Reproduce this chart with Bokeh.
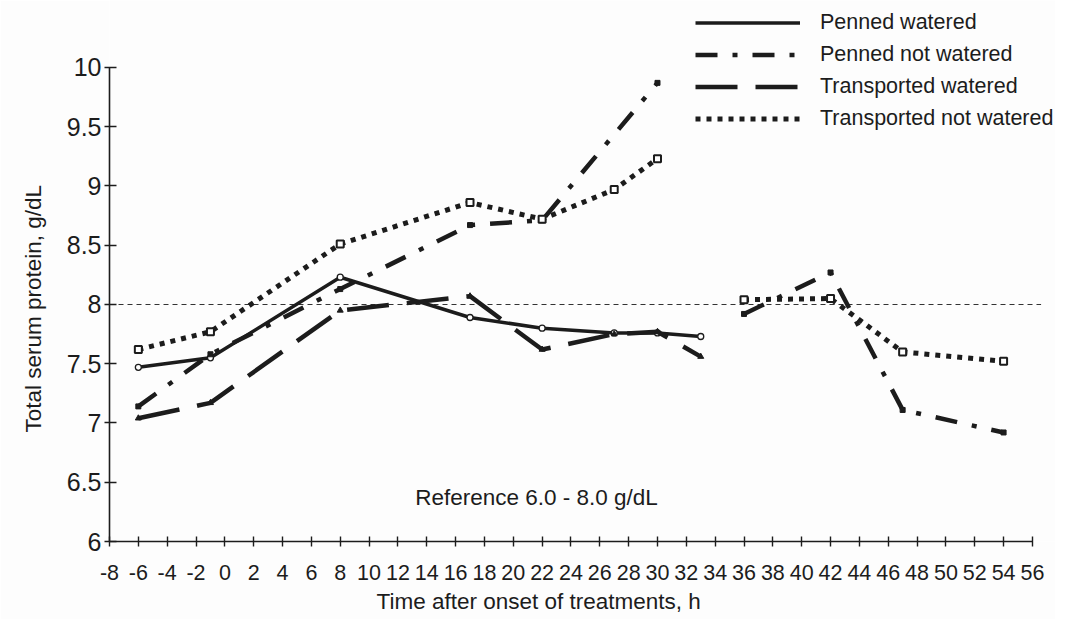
from bokeh.plotting import figure
from bokeh.models import Range1d, FixedTicker, Legend, LegendItem, Label, Title
from bokeh.embed import file_html
from bokeh.resources import INLINE

# ---------------- data ----------------
hours_pw = [-6, -1, 8, 17, 22, 27, 30, 33]
penned_watered = [7.47, 7.55, 8.23, 7.89, 7.80, 7.76, 7.76, 7.73]

hours_pnw = [-6, -1, 8, 17, 22, 30, 36, 42, 47, 54]
penned_not_watered = [7.14, 7.58, 8.13, 8.67, 8.71, 9.87, 7.92, 8.27, 7.11, 6.92]

hours_tw = [-6, -1, 8, 17, 22, 27, 30, 33]
transported_watered = [7.04, 7.17, 7.95, 8.07, 7.62, 7.75, 7.77, 7.56]

hours_tnw = [-6, -1, 8, 17, 22, 27, 30, 36, 42, 47, 54]
transported_not_watered = [7.62, 7.77, 8.51, 8.86, 8.72, 8.97, 9.23, 8.04, 8.05, 7.60, 7.52]

series_names = ["Penned watered", "Penned not watered",
                "Transported watered", "Transported not watered"]

x_ticks = list(range(-8, 57, 2))
x_tick_labels = [str(t) for t in x_ticks]
y_ticks = [6, 6.5, 7, 7.5, 8, 8.5, 9, 9.5, 10]
y_tick_labels = ["6", "6.5", "7", "7.5", "8", "8.5", "9", "9.5", "10"]

reference_upper = 8.0
reference_text = "Reference 6.0 - 8.0 g/dL"
x_title = "Time after onset of treatments, h"
y_title = "Total serum protein, g/dL"
sampling_gap = 34.5   # no samples between 33 h and 36 h


def with_gap(hours, vals):
    xs, ys = [], []
    for i, (h, v) in enumerate(zip(hours, vals)):
        if i > 0 and hours[i - 1] < sampling_gap < h:
            xs.append(float("nan"))
            ys.append(float("nan"))
        xs.append(h)
        ys.append(v)
    return xs, ys


FONT = "Liberation Sans"
INK = "#1c1c1c"

p = figure(width=1055, height=619, output_backend="svg", toolbar_location=None,
           x_range=Range1d(-8, 57.6), y_range=Range1d(6, 10.565),
           min_border_left=107, min_border_right=0, min_border_top=0,
           min_border_bottom=78)
p.outline_line_color = None
p.background_fill_color = "#fdfdfd"
p.border_fill_color = "#fdfdfd"
p.xgrid.visible = False
p.ygrid.visible = False

# axes
p.xaxis.bounds = (x_ticks[0], x_ticks[-1])
p.yaxis.bounds = (y_ticks[0], y_ticks[-1])
p.xaxis.ticker = FixedTicker(ticks=x_ticks)
p.yaxis.ticker = FixedTicker(ticks=y_ticks)
p.xaxis.major_label_overrides = {t: l for t, l in zip(x_ticks, x_tick_labels)}
p.yaxis.major_label_overrides = {t: l for t, l in zip(y_ticks, y_tick_labels)}
for ax in (p.xaxis, p.yaxis):
    ax.axis_line_color = INK
    ax.axis_line_width = 1.6
    ax.major_tick_line_color = INK
    ax.major_tick_line_width = 1.4
    ax.minor_tick_line_color = None
    ax.major_label_text_font = FONT
    ax.major_label_text_color = INK
p.xaxis.major_tick_in = 5
p.xaxis.major_tick_out = 5
p.yaxis.major_tick_in = 7
p.yaxis.major_tick_out = 5
p.xaxis.major_label_text_font_size = "21.5px"
p.yaxis.major_label_text_font_size = "25px"
p.xaxis.major_label_standoff = 18
p.yaxis.major_label_standoff = 3

# axis titles (side titles, offset like the original)
p.add_layout(Title(text=x_title, align="left", offset=267, standoff=8,
                   text_font=FONT, text_font_size="22.5px", text_color=INK,
                   text_font_style="normal"), "below")
p.add_layout(Title(text=y_title, align="left", offset=109, standoff=36,
                   text_font=FONT, text_font_size="22.5px", text_color=INK,
                   text_font_style="normal"), "left")

# reference line at 8.0 g/dL
p.line(x=[x_ticks[0], x_ticks[-1] + 0.6], y=[reference_upper, reference_upper],
       line_color="#333333", line_width=1.1, line_dash="5 4")

# series
x, y = with_gap(hours_pw, penned_watered)
r_pw = p.line(x, y, line_color=INK, line_width=3.5)
p.scatter(hours_pw, penned_watered, marker="circle", size=6,
          fill_color="white", line_color=INK, line_width=1.3)

x, y = with_gap(hours_pnw, penned_not_watered)
r_pnw = p.line(x, y, line_color=INK, line_width=4.5, line_dash="22 15 5 15")
p.scatter(hours_pnw, penned_not_watered, marker="square", size=5,
          fill_color=INK, line_color=INK)

x, y = with_gap(hours_tw, transported_watered)
r_tw = p.line(x, y, line_color=INK, line_width=4.5, line_dash="42 18")
p.scatter(hours_tw, transported_watered, marker="triangle", size=6,
          fill_color=INK, line_color=INK)

x, y = with_gap(hours_tnw, transported_not_watered)
r_tnw = p.line(x, y, line_color=INK, line_width=5, line_dash="5 6")
p.scatter(hours_tnw, transported_not_watered, marker="square", size=7,
          fill_color="white", line_color=INK, line_width=2)

legend = Legend(
    items=[LegendItem(label=n, renderers=[r])
           for n, r in zip(series_names, [r_pw, r_pnw, r_tw, r_tnw])],
    location=(586, 410), glyph_width=105, glyph_height=25, label_height=25,
    spacing=7, padding=0, margin=0, label_standoff=20,
    border_line_color=None, background_fill_alpha=0,
    label_text_font=FONT, label_text_font_size="21.5px", label_text_color=INK)
p.add_layout(legend)

# reference range text
p.add_layout(Label(x=13.2, y=6.37, text=reference_text, text_font=FONT,
                   text_font_size="22.5px", text_color=INK,
                   text_align="left", text_baseline="middle"))

open("out.html", "w").write(file_html(p, INLINE))
